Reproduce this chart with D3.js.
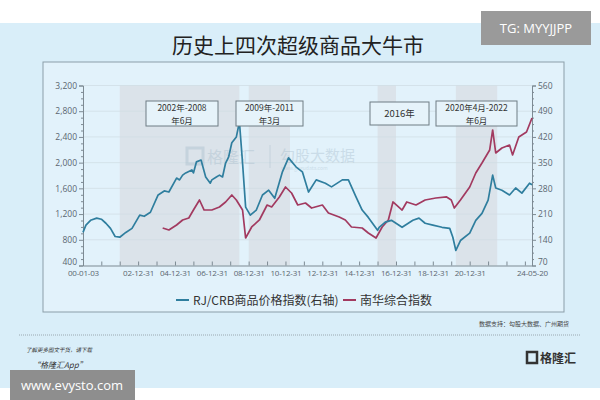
<!DOCTYPE html>
<html><head><meta charset="utf-8">
<script src="https://cdn.jsdelivr.net/npm/d3@7"></script>
<style>body{margin:0;background:#fff;}svg{display:block;font-family:"Noto Sans CJK SC","Noto Sans",sans-serif;}</style>
</head><body>
<svg id="c" width="600" height="400"></svg>
<script>
// ---- data ----
const crbDates = ["2000-01-03","2000-03","2000-06","2000-10","2001-01","2001-04","2001-07","2001-10","2002-01","2002-05","2002-09","2003-02","2003-05","2003-09","2004-02","2004-06","2004-09","2005-02","2005-04","2005-06","2005-08","2005-12","2006-01","2006-03","2006-06","2006-09","2006-12","2007-01","2007-04","2007-06","2007-08","2007-10","2007-12","2008-02","2008-05","2008-07","2008-09","2008-11","2009-02","2009-06","2009-10","2010-02","2010-06","2010-11","2011-03","2011-08","2011-12","2012-04","2012-09","2013-03","2013-07","2014-02","2014-06","2014-11","2015-03","2015-07","2016-01","2016-02","2016-06","2016-10","2017-05","2017-12","2018-04","2018-08","2019-01","2019-07","2019-12","2020-02","2020-04","2020-07","2021-01","2021-05","2021-09","2022-01","2022-04","2022-06","2022-10","2023-03","2023-07","2023-11","2024-04","2024-05-20"];
const crbValues = [160,180,193,199,196,185,171,149,147,160,171,207,204,215,262,273,270,308,303,316,322,330,322,352,357,311,294,303,311,316,311,349,366,404,420,461,349,229,207,221,262,275,253,325,363,338,325,270,303,294,284,303,303,256,221,201,166,174,188,193,174,193,199,185,180,174,171,147,111,138,158,193,212,248,316,281,275,262,281,267,294,290];
const nhDates = ["2004-05","2004-09","2005-02","2005-06","2005-10","2006-01","2006-05","2006-08","2007-01","2007-06","2007-10","2008-02","2008-05","2008-09","2008-11","2009-03","2009-08","2010-01","2010-04","2010-09","2011-01","2011-05","2011-09","2012-02","2012-06","2013-01","2013-05","2013-12","2014-04","2014-08","2015-03","2015-07","2015-12","2016-04","2016-08","2016-11","2017-05","2017-08","2018-02","2018-08","2019-03","2019-10","2020-01","2020-03","2020-07","2021-01","2021-05","2021-09","2022-02","2022-04","2022-06","2022-10","2023-03","2023-05","2023-09","2024-02","2024-05-20"];
const nhValues = [983,952,1030,1108,1139,1263,1419,1263,1263,1310,1388,1497,1419,1263,828,999,1108,1341,1310,1466,1621,1528,1341,1372,1294,1341,1217,1154,1108,999,983,906,828,999,1108,1388,1263,1388,1341,1419,1450,1466,1419,1294,1419,1621,1839,1994,2197,2508,2150,2228,2274,2119,2399,2477,2694];
const leftTicks = [400,800,1200,1600,2000,2400,2800,3200];
const rightTicks = [70,140,210,280,350,420,490,560];
const xTickLabels = ["00-01-03","02-12-31","04-12-31","06-12-31","08-12-31","10-12-31","12-12-31","14-12-31","16-12-31","18-12-31","20-12-31","24-05-20"];
const bands = [["2002-01-01","2008-06-30"],["2009-01-01","2011-03-31"],["2016-01-01","2016-12-31"],["2020-04-01","2022-06-30"]];
const bandLabels = [["2002年-2008","年6月"],["2009年-2011","年3月"],["2016年"],["2020年4月-2022","年6月"]];
const seriesNames = ["RJ/CRB商品价格指数(右轴)","南华综合指数"];
const title = "历史上四次超级商品大牛市";

// ---- drawing ----
const svg = d3.select("#c");
const parse = s => s.length === 7 ? d3.timeParse("%Y-%m")(s) : d3.timeParse("%Y-%m-%d")(s);
const fmtX = d3.timeFormat("%y-%m-%d");

svg.append("rect").attr("x",0).attr("y",23).attr("width",600).attr("height",365).attr("fill","#d9eef9");
svg.append("rect").attr("x",43).attr("y",62).attr("width",521).attr("height",250).attr("fill","#e2f2fb").attr("stroke","#8b9ea9").attr("stroke-width",1);

const x = d3.scaleTime().domain([parse("2000-01-03"), parse("2024-05-20")]).range([83,532]);
const yL = d3.scaleLinear().domain([400,3200]).range([265.5,85.5]);
const yR = d3.scaleLinear().domain([70,560]).range([265.5,85.5]);

// bands
svg.append("g").selectAll("rect").data(bands).join("rect")
  .attr("x", d=>x(parse(d[0]))).attr("width", d=>x(parse(d[1]))-x(parse(d[0])))
  .attr("y", yL(3200)).attr("height", yL(400)-yL(3200)).attr("fill","#dbe3ea");

// grid
svg.append("g").selectAll("line").data(leftTicks.slice(1)).join("line")
  .attr("x1",83).attr("x2",532).attr("y1",d=>yL(d)).attr("y2",d=>yL(d))
  .attr("stroke","#cfdbe3").attr("stroke-width",0.7);

// watermark
const wm = svg.append("g").attr("opacity",0.35);
wm.append("rect").attr("x",187).attr("y",148).attr("width",16).attr("height",16).attr("fill","none").attr("stroke","#9fb6c6").attr("stroke-width",3);
wm.append("text").attr("x",207).attr("y",163).attr("font-size",16).attr("fill","#9fb6c6").text("格隆汇");
wm.append("line").attr("x1",270).attr("x2",270).attr("y1",145).attr("y2",168).attr("stroke","#9fb6c6");
wm.append("text").attr("x",280).attr("y",161).attr("font-size",15).attr("fill","#9fb6c6").text("勾股大数据");
wm.append("text").attr("x",281).attr("y",170).attr("font-size",5).attr("fill","#9fb6c6").text("www.gogudata.com");

// axes
const axL = d3.axisLeft(yL).tickValues(leftTicks).tickFormat(d3.format(",")).tickSize(4).tickPadding(2);
const gL = svg.append("g").attr("transform","translate(83,0)").call(axL);
const axLm = d3.axisLeft(yL).tickValues(d3.range(500,3200,100).filter(v=>v%400)).tickFormat("").tickSize(2);
svg.append("g").attr("transform","translate(83,0)").call(axLm).select(".domain").remove();
const axR = d3.axisRight(yR).tickValues(rightTicks).tickSize(4).tickPadding(2);
const gR = svg.append("g").attr("transform","translate(532,0)").call(axR);
const axRm = d3.axisRight(yR).tickValues(d3.range(87.5,560,17.5).filter(v=>Math.abs(v/70-Math.round(v/70))>0.01)).tickFormat("").tickSize(2);
svg.append("g").attr("transform","translate(532,0)").call(axRm).select(".domain").remove();

const yearTicks = d3.range(2000,2024).map(y=>new Date(y,11,31));
const xTicks = [parse("2000-01-03")].concat(yearTicks, [parse("2024-05-20")]);
const labelSet = new Set(xTickLabels);
const axB = d3.axisBottom(x).tickValues(xTicks).tickSizeInner(-4).tickSizeOuter(0).tickPadding(5)
  .tickFormat(d=>labelSet.has(fmtX(d)) ? fmtX(d) : "");
const gB = svg.append("g").attr("transform","translate(0,265.5)").call(axB);

[gL,gR].forEach(g=>{
  g.selectAll("text").attr("font-size",8.5).attr("fill","#5a6670").attr("font-family","Open Sans, sans-serif");
  g.select(".domain").attr("stroke","#7d8a93");
});
gL.selectAll(".tick text").filter(d=>d===400).attr("dy","-0.15em");
gR.selectAll(".tick text").filter(d=>d===70).attr("dy","-0.15em");
gB.selectAll("text").attr("font-size",8).attr("fill","#5a6670").attr("font-family","Open Sans, sans-serif").attr("letter-spacing","-0.2");
gB.select(".domain").attr("stroke","#7d8a93");
svg.selectAll(".tick line").attr("stroke","#7d8a93");

// lines
const crb = crbDates.map((d,i)=>({d:parse(d),v:crbValues[i]}));
const nh = nhDates.map((d,i)=>({d:parse(d),v:nhValues[i]}));
svg.append("path").datum(nh).attr("fill","none").attr("stroke","#a23a60").attr("stroke-width",1.7).attr("stroke-linejoin","round")
  .attr("d", d3.line().x(p=>x(p.d)).y(p=>yL(p.v)));
svg.append("path").datum(crb).attr("fill","none").attr("stroke","#2f7e9e").attr("stroke-width",1.7).attr("stroke-linejoin","round")
  .attr("d", d3.line().x(p=>x(p.d)).y(p=>yR(p.v)));

// band labels
const boxes = [[146,101,72,25],[236,101,67,25],[370,102,59,23],[436,101,81,25]];
bandLabels.forEach((lab,i)=>{
  const b = boxes[i];
  svg.append("rect").attr("x",b[0]).attr("y",b[1]).attr("width",b[2]).attr("height",b[3])
    .attr("fill","#e6f3fa").attr("stroke","#6f7c84").attr("stroke-width",1);
  const cx = b[0]+b[2]/2;
  if(lab.length===1){
    svg.append("text").attr("text-anchor","middle").attr("font-size",9.5).attr("fill","#333")
      .attr("x",cx).attr("y",b[1]+15).text(lab[0]);
  } else {
    svg.append("text").attr("text-anchor","middle").attr("font-size",8.5).attr("fill","#333")
      .attr("x",cx).attr("y",b[1]+10).text(lab[0]);
    svg.append("text").attr("text-anchor","middle").attr("font-size",8.5).attr("fill","#333")
      .attr("x",cx).attr("y",b[1]+22.5).text(lab[1]);
  }
});

// title
svg.append("text").attr("x",298).attr("y",53).attr("text-anchor","middle").attr("font-size",21).attr("fill","#222").text(title);

// legend
const lg = svg.append("g").attr("font-size",12).attr("fill","#333");
lg.append("line").attr("x1",176).attr("x2",189).attr("y1",300).attr("y2",300).attr("stroke","#2f7e9e").attr("stroke-width",2);
lg.append("text").attr("x",193).attr("y",304.5).text(seriesNames[0]);
lg.append("line").attr("x1",343).attr("x2",356).attr("y1",300).attr("y2",300).attr("stroke","#a23a60").attr("stroke-width",2);
lg.append("text").attr("x",360).attr("y",304.5).text(seriesNames[1]);

// footer
svg.append("text").attr("x",569).attr("y",326).attr("text-anchor","end").attr("font-size",6).attr("fill","#444").text("数据支持：勾股大数据、广州期货");
svg.append("line").attr("x1",19).attr("x2",580).attr("y1",335).attr("y2",335).attr("stroke","#9aa8b0").attr("stroke-dasharray","1,1");
svg.append("text").attr("x",26).attr("y",352).attr("font-size",5.5).attr("font-style","italic").attr("fill","#333").text("了解更多图文干货，请下载");
svg.append("text").attr("x",32).attr("y",368).attr("font-size",8).attr("font-style","italic").attr("fill","#333").text("“格隆汇App”");
svg.append("rect").attr("x",527).attr("y",352).attr("width",10).attr("height",11).attr("fill","none").attr("stroke","#333").attr("stroke-width",2.5);
svg.append("text").attr("x",540).attr("y",363).attr("font-size",12).attr("font-weight","bold").attr("fill","#333").text("格隆汇");

// overlay badges
svg.append("rect").attr("x",481).attr("y",11).attr("width",110).attr("height",34).attr("fill","#9a9a9a");
svg.append("text").attr("x",536).attr("y",33).attr("text-anchor","middle").attr("font-size",13).attr("fill","#fff").attr("font-family","Open Sans, sans-serif").text("TG: MYYJJPP");
svg.append("rect").attr("x",10).attr("y",370).attr("width",125).attr("height",30).attr("fill","#8e8e8e");
svg.append("text").attr("x",72).attr("y",390).attr("text-anchor","middle").attr("font-size",13).attr("fill","#fff").attr("font-family","Open Sans, sans-serif").text("www.evysto.com");
</script>
</body></html>
